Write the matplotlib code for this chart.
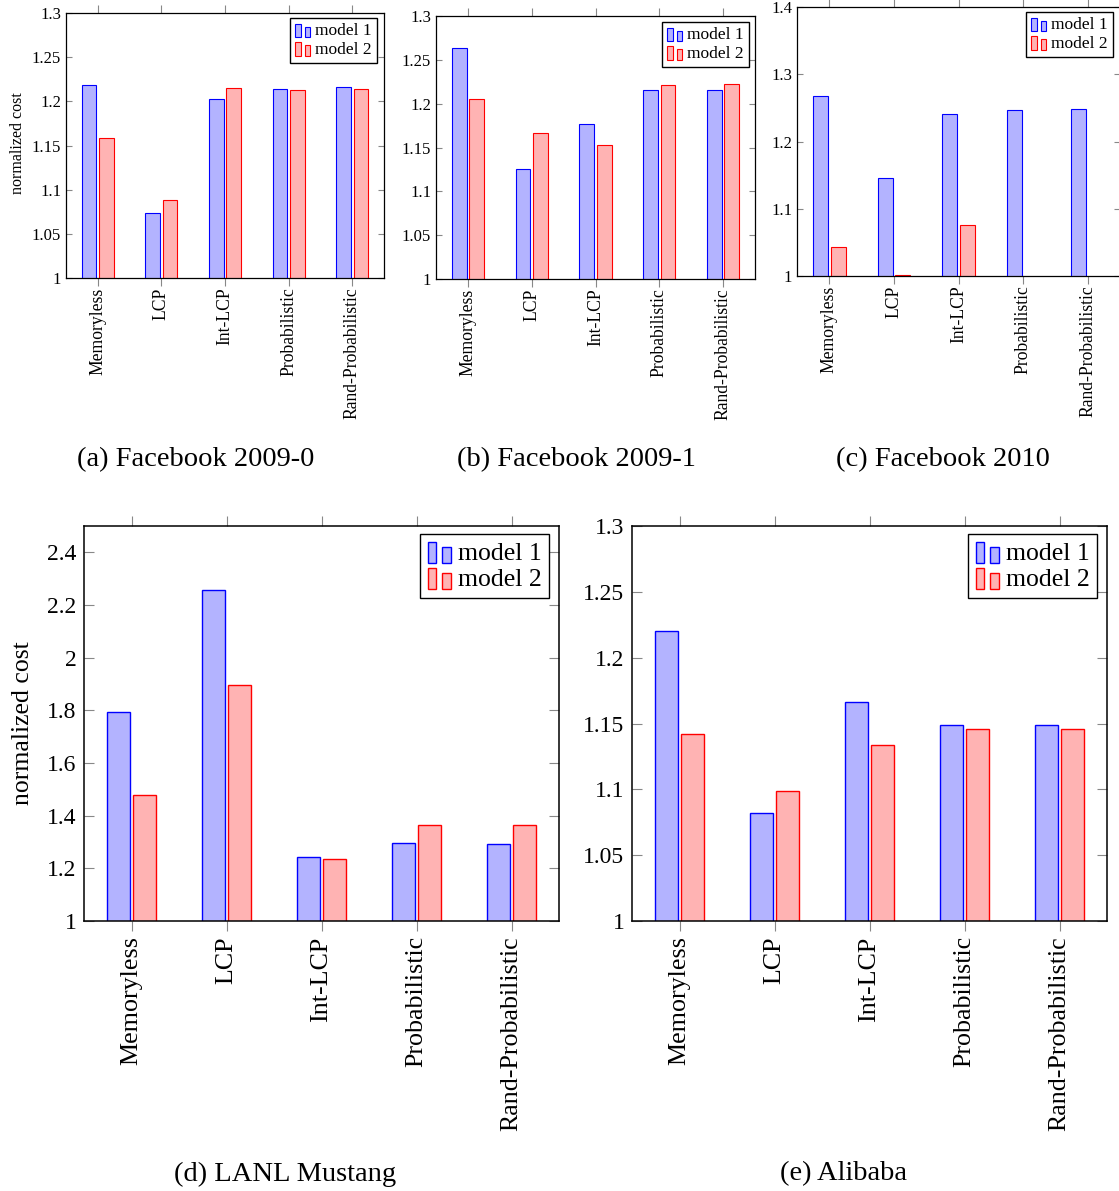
import numpy as np
import matplotlib
matplotlib.use("Agg")
import matplotlib.pyplot as plt
from matplotlib.patches import Rectangle
from matplotlib.legend_handler import HandlerBase

plt.rcParams['font.family'] = ['Liberation Serif', 'DejaVu Serif']

# ---------------- data ----------------
categories = ["Memoryless", "LCP", "Int-LCP", "Probabilistic", "Rand-Probabilistic"]
series_labels = ["model 1", "model 2"]

fb09_0_model1 = [1.218, 1.074, 1.203, 1.214, 1.216]
fb09_0_model2 = [1.158, 1.088, 1.215, 1.213, 1.214]
fb09_1_model1 = [1.264, 1.126, 1.177, 1.216, 1.216]
fb09_1_model2 = [1.205, 1.166, 1.153, 1.221, 1.222]
fb10_model1 = [1.267, 1.145, 1.241, 1.247, 1.248]
fb10_model2 = [1.043, 1.002, 1.076, np.nan, np.nan]
lanl_model1 = [1.794, 2.256, 1.244, 1.297, 1.294]
lanl_model2 = [1.479, 1.896, 1.235, 1.364, 1.364]
ali_model1 = [1.220, 1.082, 1.166, 1.149, 1.149]
ali_model2 = [1.142, 1.099, 1.134, 1.146, 1.146]

captions = ["(a) Facebook 2009-0", "(b) Facebook 2009-1", "(c) Facebook 2010",
            "(d) LANL Mustang", "(e) Alibaba"]

yticks_005 = [1, 1.05, 1.1, 1.15, 1.2, 1.25, 1.3]
ylabels_005 = ["1", "1.05", "1.1", "1.15", "1.2", "1.25", "1.3"]
yticks_01 = [1, 1.1, 1.2, 1.3, 1.4]
ylabels_01 = ["1", "1.1", "1.2", "1.3", "1.4"]
yticks_02 = [1, 1.2, 1.4, 1.6, 1.8, 2, 2.2, 2.4]
ylabels_02 = ["1", "1.2", "1.4", "1.6", "1.8", "2", "2.2", "2.4"]

# ---------------- style ----------------
W, H = 1119, 1191
fig = plt.figure(figsize=(W / 100, H / 100), dpi=100)

BLUE_FILL, BLUE_EDGE = "#B3B3FF", "#0000FF"
RED_FILL, RED_EDGE = "#FFB3B3", "#FF0000"


class BarPairHandler(HandlerBase):
    def create_artists(self, legend, orig_handle, xdescent, ydescent,
                       width, height, fontsize, trans):
        fc = orig_handle.get_facecolor()
        ec = orig_handle.get_edgecolor()
        lw = orig_handle.get_linewidth()
        w = 0.33 * fontsize
        sep = 0.55 * fontsize
        x0 = -xdescent
        y0 = -ydescent - 0.12 * fontsize
        r1 = Rectangle((x0, y0), w, 0.8 * fontsize, fc=fc, ec=ec, lw=lw, transform=trans)
        r2 = Rectangle((x0 + sep, y0), w, 0.6 * fontsize, fc=fc, ec=ec, lw=lw, transform=trans)
        return [r1, r2]


def px_axes(left, right, top, bottom):
    return fig.add_axes([left / W, 1 - bottom / H, (right - left) / W, (bottom - top) / H])


def panel(rect, m1, m2, ylim, yticks, ylabels, big, legend_pad):
    ax = px_axes(*rect)
    x = np.arange(len(categories))
    bw, off = 0.232, 0.137
    lw = 1.0 if big else 0.8
    ax.bar(x - off, m1, bw, color=BLUE_FILL, edgecolor=BLUE_EDGE, linewidth=lw, zorder=2)
    ax.bar(x + off, m2, bw, color=RED_FILL, edgecolor=RED_EDGE, linewidth=lw, zorder=2)
    ax.set_xlim(-0.5, len(categories) - 0.5)
    ax.set_ylim(*ylim)
    ax.set_yticks(yticks)
    ax.set_yticklabels(ylabels)
    ax.set_xticks(x)
    ax.set_xticklabels(categories, rotation=90)
    tfs = 17 if big else 12
    xfs = 18.7 if big else 12.7
    ax.tick_params(axis='y', direction='in', left=True, right=True,
                   length=7 if big else 4.5, width=0.8, color='#888888',
                   labelsize=tfs, pad=5.5 if big else 3.5)
    ax.tick_params(axis='x', direction='out', bottom=True, top=True,
                   length=7 if big else 5.5, width=0.8, color='#888888',
                   labelsize=xfs, pad=4 if big else 1.5)
    for s in ax.spines.values():
        s.set_linewidth(1.1 if big else 0.9)
        s.set_color('black')
        s.set_zorder(3)
    handles = [Rectangle((0, 0), 1, 1, fc=BLUE_FILL, ec=BLUE_EDGE, lw=lw),
               Rectangle((0, 0), 1, 1, fc=RED_FILL, ec=RED_EDGE, lw=lw)]
    wpx = rect[1] - rect[0]
    hpx = rect[3] - rect[2]
    px, py = legend_pad
    leg = ax.legend(handles, series_labels, handler_map={Rectangle: BarPairHandler()},
                    loc='upper right', bbox_to_anchor=(1 - px / wpx, 1 - py / hpx),
                    borderaxespad=0, fontsize=18.5 if big else 12.5, fancybox=False,
                    edgecolor='black', framealpha=1, handlelength=0.9,
                    handletextpad=0.25, labelspacing=0.12, borderpad=0.3)
    leg.get_frame().set_linewidth(1.0)
    leg.set_zorder(5)
    return ax


ax_a = panel((66, 384, 13, 278), fb09_0_model1, fb09_0_model2, (1, 1.3),
             yticks_005, ylabels_005, False, (7, 5))
ax_b = panel((436, 755, 16, 279), fb09_1_model1, fb09_1_model2, (1, 1.3),
             yticks_005, ylabels_005, False, (6, 6))
ax_c = panel((797, 1120, 7, 276), fb10_model1, fb10_model2, (1, 1.4),
             yticks_01, ylabels_01, False, (7, 5))
ax_d = panel((84, 559, 526, 921), lanl_model1, lanl_model2, (1, 2.5),
             yticks_02, ylabels_02, True, (10, 8))
ax_e = panel((632, 1107, 526, 921), ali_model1, ali_model2, (1, 1.3),
             yticks_005, ylabels_005, True, (10, 8))

# y labels
fig.text(18 / W, 1 - 143 / H, "normalized cost", rotation=90, ha='center', va='center', fontsize=11.5)
fig.text(23 / W, 1 - 723 / H, "normalized cost", rotation=90, ha='center', va='center', fontsize=18.5)

# captions
cap_pos = [(196, 460), (576, 460), (943, 460), (285, 1174), (844, 1174)]
for (cx, cy), t in zip(cap_pos, captions):
    fig.text(cx / W, 1 - cy / H, t, ha='center', va='center', fontsize=20.5)

fig.savefig("out.png", dpi=100)
